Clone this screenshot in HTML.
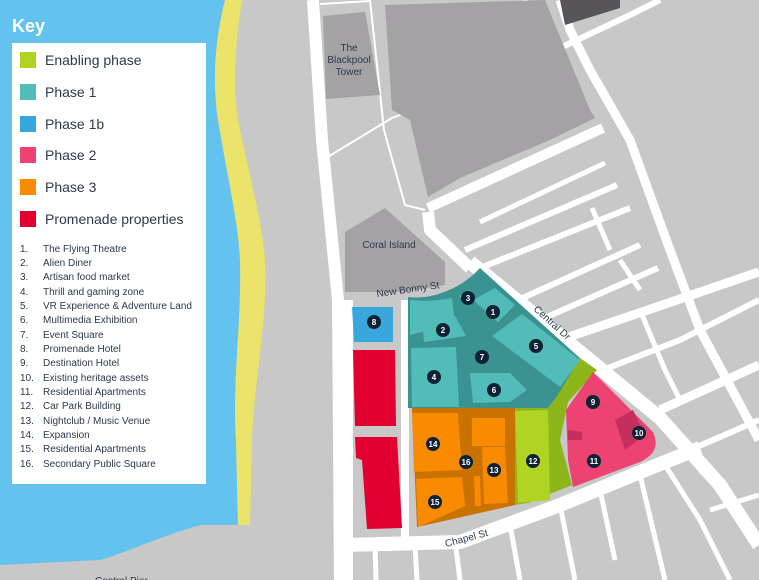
<!DOCTYPE html>
<html><head><meta charset="utf-8"><style>
html,body{margin:0;padding:0;width:759px;height:580px;overflow:hidden;background:#c9c8c9}
svg{display:block}
text{font-family:"Liberation Sans",sans-serif}
</style></head><body>
<svg width="759" height="580" viewBox="0 0 759 580" xmlns="http://www.w3.org/2000/svg">
<rect width="759" height="580" fill="#c9c8c9"/>
<!-- sea -->
<path d="M0 0 H225 C215 40 212 80 218 120 C228 180 238 220 240 260 C242 320 232 380 236 440 L238 525 L200 525 C150 540 120 555 100 560 L0 565 Z" fill="#63c3ee"/>
<!-- beach -->
<path d="M225 0 H242 C236 40 232 80 238 120 C250 180 262 220 265 260 C268 320 254 380 252 440 L250 525 L238 525 L236 440 C232 380 242 320 240 260 C238 220 228 180 218 120 C212 80 215 40 225 0 Z" fill="#ece36a"/>
<!-- roads -->
<g stroke="#fff" fill="none" stroke-linecap="butt" stroke-linejoin="round">
<path d="M313 0 L322 140 L338 300 L340 580" stroke-width="12"/>
<path d="M348 300 L348 580" stroke-width="10"/>
<path d="M405 300 L405 540" stroke-width="8"/>
<path d="M320 4 L370 1" stroke-width="2"/>
<path d="M370 0 L384 130 L405 205 L425 210" stroke-width="2"/>
<path d="M326 158 L392 118 L455 94" stroke-width="2"/>
<path d="M428 208 L603 128" stroke-width="10"/>
<path d="M428 212 L430 230 L470 268" stroke-width="12"/>
<path d="M470 262 L580 352 L660 418 L720 485 L759 545" stroke-width="14"/>
<path d="M560 0 L570 30 L590 70 L630 140 L670 250 L700 330 L759 440" stroke-width="9"/>
<path d="M525 0 L532 48 L560 48 L630 15 L660 0" stroke-width="6"/>
<path d="M480 222 L605 163" stroke-width="5"/>
<path d="M465 250 L617 185" stroke-width="6"/>
<path d="M480 268 L630 208" stroke-width="6"/>
<path d="M518 300 L640 245" stroke-width="6"/>
<path d="M540 320 L658 268" stroke-width="6"/>
<path d="M560 340 L750 275 L759 272" stroke-width="9"/>
<path d="M590 375 L680 340 L759 300" stroke-width="6"/>
<path d="M660 410 L759 365" stroke-width="9"/>
<path d="M690 450 L759 420" stroke-width="6"/>
<path d="M592 208 L610 250" stroke-width="5"/>
<path d="M620 260 L640 290" stroke-width="5"/>
<path d="M640 310 L665 370 L680 400" stroke-width="5"/>
<path d="M345 545 L460 542 L560 505 L650 468 L700 448" stroke-width="14"/>
<path d="M455 540 L460 580 M415 545 L417 580 M375 545 L376 580 M510 525 L520 580 M560 505 L575 580" stroke-width="5"/>
<path d="M600 490 L615 560 M640 475 L665 580 M665 465 L700 520 L730 580 M700 470 L740 510" stroke-width="5"/>
<path d="M710 510 L759 495" stroke-width="5"/>
</g>
<!-- grey buildings -->
<g fill="#a5a2a5">
<path d="M323 16 L365 12 L380 95 L326 99 Z"/>
<path d="M385 5 L545 0 L590 110 L595 118 L550 140 L460 178 L428 197 L410 120 L392 110 Z"/>
<path d="M345 232 L385 208 L445 262 L445 285 L400 292 L345 292 Z"/>
</g>
<path d="M560 0 L620 0 L620 8 L565 25 Z" fill="#57555a"/>
<text x="349" y="51" font-size="10" fill="#2b3a4d" text-anchor="middle">The</text>
<text x="349" y="63" font-size="10" fill="#2b3a4d" text-anchor="middle">Blackpool</text>
<text x="349" y="75" font-size="10" fill="#2b3a4d" text-anchor="middle">Tower</text>
<text x="389" y="248" font-size="10" fill="#2b3a4d" text-anchor="middle">Coral Island</text>
<!-- development -->
<path d="M408 297 C430 300 460 290 480 268 L582 360 L556 398 L548 408 L408 408 Z" fill="#3a9391"/>
<path d="M580 358 L597 370 L568 402 L560 440 L572 485 L528 503 L514 505 L514 408 L548 408 L556 398 Z" fill="#8db61a"/>
<path d="M515 411 L548 410 L550 500 L518 503 Z" fill="#b1d323"/>
<path d="M593 372 L653 432 C660 448 652 456 640 462 L573 487 L568 460 L566 410 Z" fill="#ec4373"/>
<path d="M615 420 L633 410 L645 435 L625 450 Z M568 430 L582 432 L582 440 L568 440 Z" fill="#c4305d"/>
<path d="M412 408 L515 408 L515 505 L417 527 Z" fill="#c97200"/>
<g fill="#f98b00">
<path d="M412 413 L458 413 L462 470 L414 472 Z"/>
<path d="M416 479 L462 477 L465 506 L418 527 Z"/>
<path d="M472 418 L505 418 L505 446 L472 446 Z"/>
<path d="M482 447 L505 447 L508 503 L484 504 Z"/>
<path d="M474 476 L480 476 L481 506 L475 506 Z"/>
</g>
<g fill="#52bcb8">
<path d="M410 300 C430 302 440 300 452 298 L455 323 L410 335 Z"/>
<path d="M422 318 L455 316 L466 336 L424 342 Z"/>
<path d="M459 296 L470 290 L476 300 L470 305 Z"/>
<path d="M473 300 L495 288 L515 305 L498 322 Z"/>
<path d="M492 336 L522 314 L580 360 L560 387 Z"/>
<path d="M411 348 L456 347 L459 407 L412 407 Z"/>
<path d="M470 373 L510 373 L527 390 L510 402 L473 403 Z"/>
</g>
<path d="M352 307 L393 307 L393 342 L354 342 Z" fill="#38a7de"/>
<g fill="#e1002f">
<path d="M353 350 L395 350 L396 426 L355 426 Z"/>
<path d="M355 437 L397 437 L402 528 L367 529 L362 460 L356 458 Z"/>
</g>
<!-- numbers -->
<g font-size="8" fill="#fff" text-anchor="middle" font-weight="bold">
<g fill="#0e2236">
<circle cx="493" cy="312" r="7"/><circle cx="443" cy="330" r="7"/><circle cx="468" cy="298" r="7"/>
<circle cx="434" cy="377" r="7"/><circle cx="536" cy="346" r="7"/><circle cx="494" cy="390" r="7"/>
<circle cx="482" cy="357" r="7"/><circle cx="374" cy="322" r="7"/><circle cx="593" cy="402" r="7"/>
<circle cx="639" cy="433" r="7"/><circle cx="594" cy="461" r="7"/><circle cx="533" cy="461" r="7"/>
<circle cx="494" cy="470" r="7"/><circle cx="433" cy="444" r="7"/><circle cx="435" cy="502" r="7"/>
<circle cx="466" cy="462" r="7"/>
</g>
<text x="493" y="315">1</text><text x="443" y="333">2</text><text x="468" y="301">3</text>
<text x="434" y="380">4</text><text x="536" y="349">5</text><text x="494" y="393">6</text>
<text x="482" y="360">7</text><text x="374" y="325">8</text><text x="593" y="405">9</text>
<text x="639" y="436">10</text><text x="594" y="464">11</text><text x="533" y="464">12</text>
<text x="494" y="473">13</text><text x="433" y="447">14</text><text x="435" y="505">15</text>
<text x="466" y="465">16</text>
</g>
<text x="0" y="0" font-size="10" fill="#2b3a4d" transform="translate(377,297) rotate(-8)">New Bonny St</text>
<text x="0" y="0" font-size="10" fill="#2b3a4d" transform="translate(533,310) rotate(42)">Central Dr</text>
<text x="0" y="0" font-size="10" fill="#2b3a4d" transform="translate(446,547) rotate(-15)">Chapel St</text>
<text x="95" y="584" font-size="10" fill="#2b3a4d">Central Pier</text>
<!-- key -->
<text x="12" y="32" font-size="18" font-weight="bold" fill="#fff">Key</text>
<rect x="12" y="43" width="194" height="441" fill="#fff"/>
<rect x="20" y="52" width="16" height="16" fill="#b1d323"/>
<rect x="20" y="84" width="16" height="16" fill="#52bcb8"/>
<rect x="20" y="116" width="16" height="16" fill="#38a7de"/>
<rect x="20" y="147" width="16" height="16" fill="#ec4373"/>
<rect x="20" y="179" width="16" height="16" fill="#f98b00"/>
<rect x="20" y="211" width="16" height="16" fill="#e1002f"/>
<g font-size="14" fill="#2b3a4d">
<text x="45" y="65">Enabling phase</text>
<text x="45" y="97">Phase 1</text>
<text x="45" y="129">Phase 1b</text>
<text x="45" y="160">Phase 2</text>
<text x="45" y="192">Phase 3</text>
<text x="45" y="224">Promenade properties</text>
</g>
<g font-size="10" fill="#2b3a4d">
<text x="20" y="252">1.</text><text x="43" y="252">The Flying Theatre</text>
<text x="20" y="266">2.</text><text x="43" y="266">Alien Diner</text>
<text x="20" y="280">3.</text><text x="43" y="280">Artisan food market</text>
<text x="20" y="295">4.</text><text x="43" y="295">Thrill and gaming zone</text>
<text x="20" y="309">5.</text><text x="43" y="309">VR Experience &amp; Adventure Land</text>
<text x="20" y="323">6.</text><text x="43" y="323">Multimedia Exhibition</text>
<text x="20" y="338">7.</text><text x="43" y="338">Event Square</text>
<text x="20" y="352">8.</text><text x="43" y="352">Promenade Hotel</text>
<text x="20" y="366">9.</text><text x="43" y="366">Destination Hotel</text>
<text x="20" y="381">10.</text><text x="43" y="381">Existing heritage assets</text>
<text x="20" y="395">11.</text><text x="43" y="395">Residential Apartments</text>
<text x="20" y="409">12.</text><text x="43" y="409">Car Park Building</text>
<text x="20" y="424">13.</text><text x="43" y="424">Nightclub / Music Venue</text>
<text x="20" y="438">14.</text><text x="43" y="438">Expansion</text>
<text x="20" y="452">15.</text><text x="43" y="452">Residential Apartments</text>
<text x="20" y="467">16.</text><text x="43" y="467">Secondary Public Square</text>
</g>
</svg>
</body></html>
